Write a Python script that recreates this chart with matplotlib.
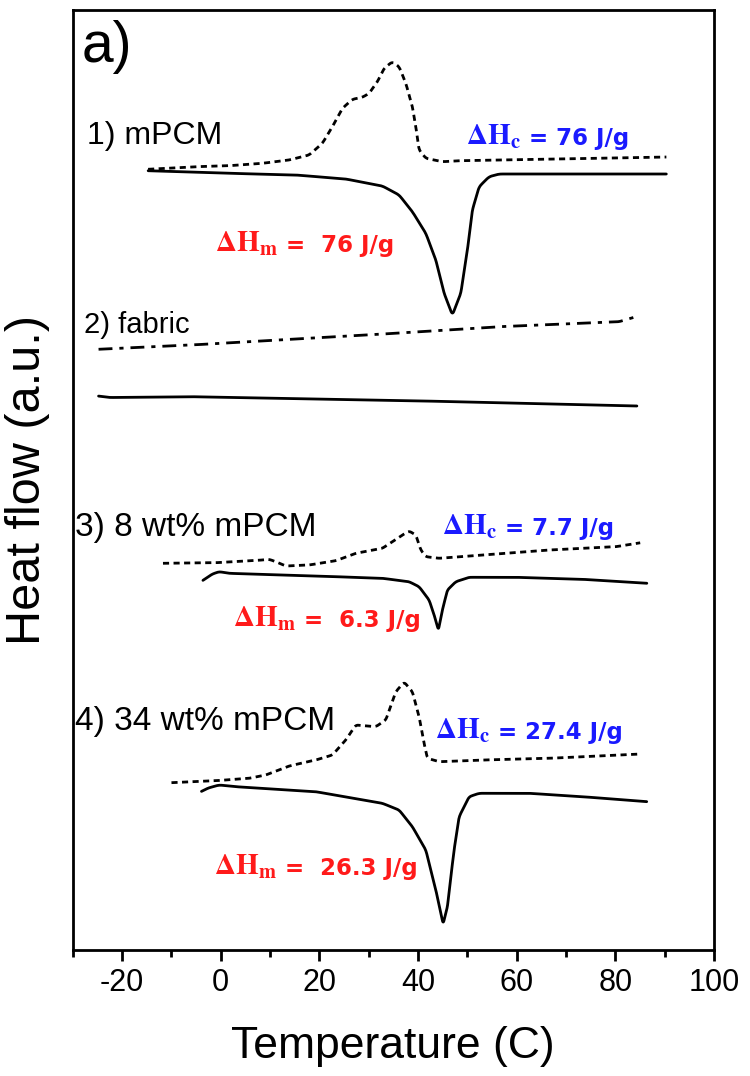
import matplotlib
matplotlib.use("Agg")
import matplotlib.pyplot as plt
import numpy as np

plt.rcParams['font.family'] = ['Liberation Sans', 'DejaVu Sans']
plt.rcParams['mathtext.fontset'] = 'stix'
plt.rcParams['axes.unicode_minus'] = False

# ---- data (Temperature in C, heat flow in arbitrary units) ----
# 1) mPCM cooling (dashed)
t1c = [-14.84, -5.03, 1.72, 8.47, 13.88, 17.94, 20.63, 22.66, 24.69, 26.71, 28.74, 30.10,
       31.78, 33.14, 34.82, 36.18, 37.54, 38.87, 39.56, 40.23, 41.59, 44.95, 48.34, 68.6, 90.49]
h1c = [78.07, 78.33, 78.43, 78.67, 79.0, 79.5, 80.67, 82.33, 84.17, 85.07, 85.27, 85.67,
       86.83, 88.17, 88.83, 88.33, 86.67, 84.33, 82.33, 80.0, 79.17, 78.83, 78.93, 79.1, 79.3]
# 1) mPCM heating (solid)
t1h = [-14.84, 1.72, 15.24, 25.37, 32.79, 36.18, 38.87, 41.59, 43.62, 45.30, 46.98, 48.68,
       50.02, 51.03, 52.39, 54.42, 56.44, 62.52, 90.49]
h1h = [77.93, 77.67, 77.5, 77.1, 76.4, 75.5, 73.83, 71.67, 69.0, 65.67, 63.5, 65.67,
       70.0, 74.0, 76.33, 77.33, 77.6, 77.6, 77.6]
# 2) fabric cooling (dash-dot)
t2c = [-24.87, -5.98, 29.69, 56.44, 80.76, 84.2]
h2c = [60.07, 60.5, 61.5, 62.33, 62.83, 63.33]
# 2) fabric heating (solid)
t2h = [-24.87, -22.5, -5.98, 38.69, 84.5]
h2h = [55.4, 55.25, 55.33, 54.93, 54.4]
# 3) 8 wt% mPCM cooling (dashed)
t3c = [-11.8, -0.97, 8.47, 9.83, 11.19, 13.21, 17.94, 23.35, 27.4, 32.79, 36.85, 38.2,
       39.56, 40.58, 41.59, 44.28, 53.06, 66.58, 80.1, 85.16]
h3c = [38.67, 38.73, 39.0, 39.07, 38.83, 38.4, 38.5, 38.93, 39.67, 40.17, 41.5, 41.9,
       41.5, 40.0, 39.33, 39.17, 39.5, 40.0, 40.33, 40.73]
# 3) 8 wt% mPCM heating (solid)
t3h = [-3.69, -1.66, -0.3, 1.72, 5.78, 19.29, 32.79, 38.2, 40.23, 42.26, 43.28, 44.14,
       44.95, 45.97, 47.67, 50.36, 59.83, 73.33, 86.5]
h3h = [36.93, 37.6, 37.83, 37.67, 37.6, 37.4, 37.17, 36.83, 36.33, 35.0, 33.5, 32.0,
       34.0, 36.0, 36.83, 37.27, 37.27, 37.07, 36.67]
# 4) 34 wt% mPCM cooling (dashed)
t4c = [-10.09, -0.97, 5.78, 9.16, 13.88, 19.29, 22.66, 25.37, 27.4, 31.45, 33.48, 35.51,
       37.19, 38.87, 40.23, 41.24, 41.91, 44.28, 53.06, 66.58, 85.16]
h4c = [16.73, 16.93, 17.17, 17.5, 18.4, 19.0, 19.5, 21.0, 22.5, 22.33, 23.0, 25.83,
       26.8, 25.83, 23.33, 20.67, 19.17, 18.83, 19.0, 19.17, 19.6]
# 4) 34 wt% mPCM heating (solid)
t4h = [-4.01, -2.5, -0.3, 3.08, 19.29, 32.79, 36.18, 38.87, 41.59, 43.62, 45.1, 45.97,
       46.66, 47.32, 48.34, 50.36, 52.39, 62.52, 73.33, 86.5]
h4h = [15.83, 16.2, 16.5, 16.33, 15.83, 14.67, 14.0, 12.33, 10.0, 6.0, 2.6, 4.33,
       7.33, 10.0, 13.33, 15.33, 15.67, 15.67, 15.33, 14.83]

sample_labels = ['1) mPCM', '2) fabric', '3) 8 wt% mPCM', '4) 34 wt% mPCM']
dhc_labels = ['76 J/g', '7.7 J/g', '27.4 J/g']
dhm_labels = ['76 J/g', '6.3 J/g', '26.3 J/g']
xticks = [-20, 0, 20, 40, 60, 80, 100]


def smooth(x, y, n=500):
    x = np.asarray(x, float)
    y = np.asarray(y, float)
    d = np.r_[0, np.cumsum(np.hypot(np.diff(x) / 130, np.diff(y) / 94))]
    s = np.linspace(0, d[-1], n)
    xs = np.interp(s, d, x)
    ys = np.interp(s, d, y)
    k = np.ones(5) / 5
    xp = np.r_[np.full(2, xs[0]), xs, np.full(2, xs[-1])]
    yp = np.r_[np.full(2, ys[0]), ys, np.full(2, ys[-1])]
    return np.convolve(xp, k, 'valid'), np.convolve(yp, k, 'valid')


fig = plt.figure(figsize=(7.5, 10.76), dpi=100)
ax = fig.add_axes([0.0968, 0.1171, 0.8552, 0.8736])

dash = (0, (2.2, 1.6))
dashdot = (0, (5, 2.5, 1.5, 2.5))
lw = 2.0
for x, y, ls in [(t1c, h1c, dash), (t1h, h1h, '-'), (t2c, h2c, dashdot), (t2h, h2h, '-'),
                 (t3c, h3c, dash), (t3h, h3h, '-'), (t4c, h4c, dash), (t4h, h4h, '-')]:
    xs, ys = smooth(x, y)
    ax.plot(xs, ys, color='black', lw=lw, linestyle=ls, solid_capstyle='round')

ax.set_xlim(-30, 100)
ax.set_ylim(0, 94)
ax.set_xticks(xticks)
ax.set_xticks(np.arange(-30, 101, 10), minor=True)
ax.set_yticks([])
ax.tick_params(axis='x', which='major', direction='out', length=8, width=2,
               labelsize=22, pad=5)
ax.tick_params(axis='x', which='minor', direction='out', length=5, width=2)
for sp in ax.spines.values():
    sp.set_linewidth(2)

ax.set_xlabel('Temperature (C)', fontsize=32, labelpad=20)
ax.set_ylabel('Heat flow (a.u.)', fontsize=35, labelpad=16)

ax.text(-28.2, 90.3, 'a)', fontsize=41, ha='left', va='center')
label_pos = [(-27.0, 81.4), (-27.7, 62.5), (-29.6, 42.3), (-29.6, 22.9)]
label_sizes = [23, 21, 24, 24]
for (tx, hy), lab, fs in zip(label_pos, sample_labels, label_sizes):
    ax.text(tx, hy, lab, fontsize=fs, ha='left', va='center')

blue = '#1a1aff'
red = '#ff1a1a'
fam = ['DejaVu Sans']


def dh_text(tx, hy, sub, value, color, gap):
    t = ax.text(tx, hy, r'$\mathbf{\Delta H_%s}$' % sub, fontsize=21, color=color,
                ha='left', va='baseline')
    ax.annotate(gap + value, xy=(1, hy), xycoords=(t, 'data'),
                fontsize=16.5, fontweight='bold',
                color=color, ha='left', va='baseline', family=fam)


for (tx, hy), lab in zip([(49.8, 80.5), (44.8, 41.5), (43.5, 21.1)], dhc_labels):
    dh_text(tx, hy, 'c', lab, blue, ' = ')
for (tx, hy), lab in zip([(-1.2, 69.8), (2.6, 32.3), (-1.4, 7.5)], dhm_labels):
    dh_text(tx, hy, 'm', lab, red, ' =  ')

fig.savefig('out.png', dpi=100)
